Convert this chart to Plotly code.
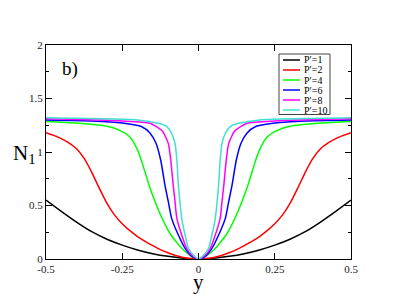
import plotly.graph_objects as go

# ---- data ----
labels = ["P\u2032=1", "P\u2032=2", "P\u2032=4", "P\u2032=6", "P\u2032=8", "P\u2032=10"]
colors = ["#000000", "#ff0000", "#00ff00", "#0000ff", "#ff00ff", "#40e0d0"]

y_p1 = [-0.5, -0.45, -0.4, -0.35, -0.3, -0.25, -0.2, -0.15, -0.1, -0.05, 0.0,
        0.05, 0.1, 0.15, 0.2, 0.25, 0.3, 0.35, 0.4, 0.45, 0.5]
n_p1 = [0.55, 0.445, 0.345, 0.255, 0.185, 0.13, 0.085, 0.05, 0.025, 0.008, 0.0,
        0.008, 0.025, 0.05, 0.085, 0.13, 0.185, 0.255, 0.345, 0.445, 0.55]

y_p2 = [-0.5, -0.475, -0.45, -0.425, -0.4, -0.375, -0.35, -0.325, -0.3, -0.275, -0.25, -0.225, -0.2,
        -0.175, -0.15, -0.125, -0.1, -0.075, -0.05, -0.025, 0.0,
        0.025, 0.05, 0.075, 0.1, 0.125, 0.15, 0.175, 0.2, 0.225, 0.25, 0.275, 0.3,
        0.325, 0.35, 0.375, 0.4, 0.425, 0.45, 0.475, 0.5]
n_p2 = [1.18, 1.155, 1.125, 1.085, 1.03, 0.94, 0.81, 0.66, 0.52, 0.41, 0.33, 0.265, 0.21,
        0.165, 0.125, 0.088, 0.058, 0.032, 0.014, 0.004, 0.0,
        0.004, 0.014, 0.032, 0.058, 0.088, 0.125, 0.165, 0.21, 0.265, 0.33, 0.41, 0.52,
        0.66, 0.81, 0.94, 1.03, 1.085, 1.125, 1.155, 1.18]

y_p4 = [-0.5, -0.4, -0.3, -0.26, -0.225, -0.2, -0.186, -0.162, -0.143, -0.121, -0.1, -0.088, -0.07, -0.055, -0.035, -0.02, 0.0,
        0.02, 0.035, 0.055, 0.07, 0.088, 0.1, 0.121, 0.143, 0.162, 0.186, 0.2, 0.225, 0.26, 0.3, 0.4, 0.5]
n_p4 = [1.285, 1.27, 1.24, 1.205, 1.14, 1.02, 0.91, 0.69, 0.54, 0.39, 0.27, 0.215, 0.15, 0.10, 0.05, 0.02, 0.0,
        0.02, 0.05, 0.10, 0.15, 0.215, 0.27, 0.39, 0.54, 0.69, 0.91, 1.02, 1.14, 1.205, 1.24, 1.27, 1.285]

y_p6 = [-0.5, -0.35, -0.25, -0.186, -0.16, -0.139, -0.124, -0.11, -0.099, -0.088, -0.066, -0.044, -0.02, 0.0,
        0.02, 0.044, 0.066, 0.088, 0.099, 0.11, 0.124, 0.139, 0.16, 0.186, 0.25, 0.35, 0.5]
n_p6 = [1.30, 1.29, 1.27, 1.236, 1.18, 1.08, 0.925, 0.69, 0.536, 0.38, 0.224, 0.10, 0.02, 0.0,
        0.02, 0.10, 0.224, 0.38, 0.536, 0.69, 0.925, 1.08, 1.18, 1.236, 1.27, 1.29, 1.30]

y_p8 = [-0.5, -0.25, -0.159, -0.12, -0.099, -0.091, -0.083, -0.077, -0.071, -0.055, -0.039, -0.02, 0.0,
        0.02, 0.039, 0.055, 0.071, 0.077, 0.083, 0.091, 0.099, 0.12, 0.159, 0.25, 0.5]
n_p8 = [1.31, 1.29, 1.268, 1.20, 1.08, 0.925, 0.69, 0.536, 0.38, 0.224, 0.10, 0.03, 0.0,
        0.03, 0.10, 0.224, 0.38, 0.536, 0.69, 0.925, 1.08, 1.20, 1.268, 1.29, 1.31]

y_p10 = [-0.5, -0.2, -0.132, -0.105, -0.088, -0.077, -0.071, -0.066, -0.061, -0.055, -0.044, -0.033, -0.015, 0.0,
         0.015, 0.033, 0.044, 0.055, 0.061, 0.066, 0.071, 0.077, 0.088, 0.105, 0.132, 0.2, 0.5]
n_p10 = [1.32, 1.30, 1.268, 1.24, 1.175, 1.08, 0.925, 0.69, 0.536, 0.38, 0.224, 0.10, 0.03, 0.0,
         0.03, 0.10, 0.224, 0.38, 0.536, 0.69, 0.925, 1.08, 1.175, 1.24, 1.268, 1.30, 1.32]

x_ticks = [-0.5, -0.25, 0, 0.25, 0.5]
x_ticktext = ["-0.5", "-0.25", "0", "0.25", "0.5"]
y_ticks = [0, 0.5, 1, 1.5, 2]
y_ticktext = ["0", "0.5", "1", "1.5", "2"]

series_y = [y_p1, y_p2, y_p4, y_p6, y_p8, y_p10]
series_n = [n_p1, n_p2, n_p4, n_p6, n_p8, n_p10]

# ---- layout geometry (pixels) ----
W, H = 395, 305
L, R, T, B = 46, 44, 45, 46
PW, PH = W - L - R, H - T - B

def px(x):
    return (x - L) / PW

def py(y):
    return (H - B - y) / PH

SERIF = "Liberation Serif, Times New Roman, serif"

fig = go.Figure()
for ys, ns, c, lab in zip(series_y, series_n, colors, labels):
    fig.add_trace(go.Scatter(x=ys, y=ns, mode="lines", name=lab,
                             line=dict(color=c, width=1.5, shape="spline", smoothing=0.6),
                             showlegend=False))

axis_common = dict(showline=True, linecolor="black", linewidth=1, mirror="ticks",
                   ticks="inside", ticklen=6, tickcolor="black", tickwidth=1,
                   showgrid=False, zeroline=False,
                   tickfont=dict(family=SERIF, size=11, color="#222"))

fig.update_xaxes(range=[-0.5, 0.5], tickvals=x_ticks, ticktext=x_ticktext, **axis_common)
fig.update_yaxes(range=[0, 2], tickvals=y_ticks, ticktext=y_ticktext,
                 minor=dict(ticks="inside", ticklen=3, dtick=0.25, tick0=0, tickcolor="black"),
                 **axis_common)

shapes = []
annotations = []
# legend box
shapes.append(dict(type="rect", xref="paper", yref="paper",
                   x0=px(279), x1=px(330), y0=py(114.5), y1=py(54),
                   line=dict(color="#444", width=1), fillcolor="white", layer="above"))
for i, (c, lab) in enumerate(zip(colors, labels)):
    yy = 60 + i * 10
    shapes.append(dict(type="line", xref="paper", yref="paper",
                       x0=px(283), x1=px(300), y0=py(yy), y1=py(yy),
                       line=dict(color=c, width=1.5), layer="above"))
    annotations.append(dict(xref="paper", yref="paper", x=px(302), y=py(yy),
                            text=lab, showarrow=False, xanchor="left", yanchor="middle",
                            font=dict(family=SERIF, size=10, color="black")))

annotations.append(dict(xref="paper", yref="paper", x=px(70), y=py(69), text="b)",
                        showarrow=False, xanchor="center", yanchor="middle",
                        font=dict(family=SERIF, size=19, color="black")))
annotations.append(dict(xref="paper", yref="paper", x=px(24), y=py(154),
                        text="N<sub>1</sub>", showarrow=False, xanchor="center", yanchor="middle",
                        font=dict(family=SERIF, size=21, color="black")))
annotations.append(dict(xref="paper", yref="paper", x=px(198), y=py(282), text="y",
                        showarrow=False, xanchor="center", yanchor="middle",
                        font=dict(family=SERIF, size=21, color="black")))

fig.update_layout(width=W, height=H, margin=dict(l=L, r=R, t=T, b=B),
                  paper_bgcolor="white", plot_bgcolor="white",
                  shapes=shapes, annotations=annotations, showlegend=False)

fig.write_html("out.html", config={"displayModeBar": False},
               post_script="document.body.style.margin='0';")
